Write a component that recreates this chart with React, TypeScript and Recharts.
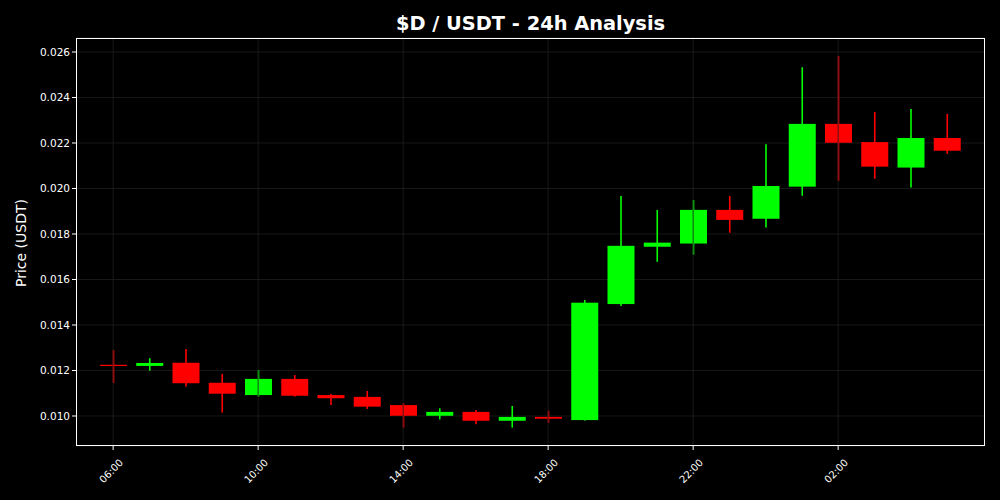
import React from 'react';
import { ComposedChart, Bar, XAxis, YAxis, CartesianGrid, ReferenceLine } from 'recharts';

const hours = [
  '06:00', '07:00', '08:00', '09:00', '10:00', '11:00', '12:00', '13:00',
  '14:00', '15:00', '16:00', '17:00', '18:00', '19:00', '20:00', '21:00',
  '22:00', '23:00', '00:00', '01:00', '02:00', '03:00', '04:00', '05:00',
];
const opens = [
  0.01225, 0.0122, 0.01234, 0.01146, 0.01092, 0.01163, 0.01092, 0.01084,
  0.01048, 0.01001, 0.01018, 0.00979, 0.00996, 0.00982, 0.01492, 0.01744,
  0.01758, 0.01906, 0.01867, 0.02008, 0.02284, 0.02204, 0.02092, 0.02222,
];
const highs = [
  0.0129, 0.01254, 0.01294, 0.01185, 0.01202, 0.0118, 0.01097, 0.0111,
  0.01056, 0.01034, 0.01026, 0.01044, 0.01023, 0.0151, 0.01967, 0.01906,
  0.01949, 0.01967, 0.02194, 0.02533, 0.02582, 0.02336, 0.02349, 0.02327,
];
const lows = [
  0.01145, 0.01199, 0.01129, 0.01015, 0.01085, 0.01085, 0.01048, 0.01031,
  0.00949, 0.00985, 0.00964, 0.00949, 0.0097, 0.0098, 0.01484, 0.01678,
  0.01709, 0.01806, 0.01828, 0.01968, 0.02034, 0.02043, 0.02004, 0.02152,
];
const closes = [
  0.01223, 0.01233, 0.01144, 0.01098, 0.01163, 0.01089, 0.01078, 0.01041,
  0.01001, 0.01018, 0.00979, 0.00996, 0.00988, 0.01498, 0.01748, 0.01762,
  0.01906, 0.01862, 0.02011, 0.02284, 0.02201, 0.02096, 0.02222, 0.02166,
];
const xTickLabels = ['06:00', '10:00', '14:00', '18:00', '22:00', '02:00'];
const yTicks = [0.01, 0.012, 0.014, 0.016, 0.018, 0.02, 0.022, 0.024, 0.026];

const data = hours.map((h, i) => ({
  time: h,
  open: opens[i],
  high: highs[i],
  low: lows[i],
  close: closes[i],
}));

const UP = '#00ff00';
const DOWN = '#ff0000';
const GRID = '#1e1e1e';
const FONT = '"DejaVu Sans", sans-serif';

const Candle = (props: any) => {
  const { x, y, width, height, payload } = props;
  const { open, close, high, low } = payload;
  const ratio = height / (high - low || 1);
  const yOf = (v: number) => y + (high - v) * ratio;
  const color = close >= open ? UP : DOWN;
  const cx = x + width / 2;
  const top = yOf(Math.max(open, close));
  const bottom = yOf(Math.min(open, close));
  return (
    <g>
      <line x1={cx} x2={cx} y1={y} y2={y + height} stroke={color} strokeWidth={1.6} />
      <rect x={x} y={top} width={width} height={Math.max(bottom - top, 1.2)} fill={color} />
    </g>
  );
};

// only every 4th hour gets a tick mark and a rotated label
const XTick = (props: any) => {
  const { x, y, payload } = props;
  if (!xTickLabels.includes(payload.value)) return null;
  const cx = x - 2;
  const cy = y + 25;
  return (
    <g>
      <line x1={x} x2={x} y1={y} y2={y + 4} stroke="#ffffff" strokeWidth={1} />
      <text
        x={cx}
        y={cy}
        fill="#ffffff"
        fontSize={10}
        fontFamily={FONT}
        textAnchor="middle"
        dominantBaseline="central"
        transform={`rotate(-45, ${cx}, ${cy})`}
      >
        {payload.value}
      </text>
    </g>
  );
};

const App: React.FC = () => {
  return (
    <div style={{ position: 'absolute', top: 0, left: 0, width: 1000, height: 500, background: '#000000' }}>
      <div
        style={{
          position: 'absolute', top: 11, left: 76, width: 909, textAlign: 'center',
          color: '#ffffff', fontFamily: FONT, fontWeight: 'bold', fontSize: 19.4, lineHeight: '26px',
        }}
      >
        $D / USDT - 24h Analysis
      </div>
      <div
        style={{
          position: 'absolute', left: 21, top: 243, transform: 'translate(-50%, -50%) rotate(-90deg)',
          color: '#ffffff', fontFamily: FONT, fontSize: 14, whiteSpace: 'nowrap',
        }}
      >
        Price (USDT)
      </div>
      <ComposedChart
        width={1000}
        height={500}
        data={data}
        margin={{ top: 38, right: 15, bottom: 0, left: 0 }}
        style={{ position: 'absolute', top: 0, left: 0 }}
      >
        <CartesianGrid vertical={false} stroke={GRID} strokeWidth={0.8} />
        {xTickLabels.map((t) => (
          <ReferenceLine key={t} x={t} stroke={GRID} strokeWidth={0.8} />
        ))}
        <XAxis
          dataKey="time"
          interval={0}
          height={54}
          padding={{ left: 19, right: 20 }}
          axisLine={false}
          tickLine={false}
          tickSize={0}
          tickMargin={0}
          tick={<XTick />}
        />
        <YAxis
          width={76}
          domain={[0.008681, 0.026615]}
          ticks={yTicks}
          allowDataOverflow
          axisLine={false}
          tickLine={{ stroke: '#ffffff' }}
          tickSize={4}
          tickFormatter={(v: number) => v.toFixed(3)}
          tick={{ fill: '#ffffff', fontSize: 10.5, fontFamily: FONT }}
        />
        <Bar
          dataKey={(d: any) => [d.low, d.high]}
          barSize={27}
          shape={<Candle />}
          isAnimationActive={false}
        />
      </ComposedChart>
      <div
        style={{
          position: 'absolute', left: 76, top: 38, width: 909, height: 408,
          boxSizing: 'border-box', border: '1px solid #ffffff', pointerEvents: 'none',
        }}
      />
    </div>
  );
};

export default App;
